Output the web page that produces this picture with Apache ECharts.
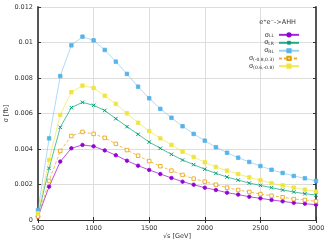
<!DOCTYPE html>
<html><head><meta charset="utf-8">
<script src="https://cdn.jsdelivr.net/npm/echarts@6/dist/echarts.min.js"></script>
<style>html,body{margin:0;padding:0;background:#fff}#c{width:327px;height:245px}</style>
</head><body><div id="c"></div>
<script>
const energies = [500,600,700,800,900,1000,1100,1200,1300,1400,1500,1600,1700,1800,1900,2000,2100,2200,2300,2400,2500,2600,2700,2800,2900,3000];
const sigmaLL = [0.00019,0.00188,0.00329,0.00404,0.00423,0.00415,0.00392,0.00365,0.00334,0.00306,0.00282,0.00259,0.00237,0.00216,0.00199,0.00182,0.00169,0.00154,0.00143,0.00131,0.00122,0.00113,0.00105,0.00097,0.00092,0.00086];
const sigmaLR = [0.00028,0.00291,0.00522,0.00633,0.00663,0.00646,0.00617,0.00571,0.00526,0.00483,0.00439,0.00404,0.0037,0.00338,0.00312,0.00286,0.00263,0.00242,0.00225,0.00208,0.00195,0.00182,0.00169,0.00158,0.00148,0.00141];
const sigmaRL = [0.00056,0.0046,0.00811,0.00984,0.01033,0.01012,0.00958,0.00892,0.00823,0.00751,0.00686,0.00626,0.00576,0.00528,0.00485,0.00447,0.0041,0.00379,0.00351,0.00327,0.00304,0.00283,0.00265,0.00248,0.00235,0.0022];
const sigmaM08P03 = [0.0002,0.0022,0.00389,0.00473,0.00496,0.00485,0.00463,0.00429,0.00394,0.00362,0.00332,0.00303,0.00278,0.00254,0.00233,0.00216,0.00199,0.00182,0.00169,0.00158,0.00146,0.00137,0.00128,0.00118,0.00113,0.00105];
const sigmaP06M08 = [0.00038,0.00338,0.00592,0.0072,0.00757,0.00744,0.007,0.00654,0.00601,0.00548,0.00501,0.0046,0.00423,0.00385,0.00355,0.00325,0.00299,0.00278,0.00259,0.0024,0.00224,0.00208,0.00195,0.00182,0.00171,0.0016];
const seriesNames = ['LL','LR','RL','(-0.8,0.3)','(0.6,-0.8)'];
const xTicks = {min:500, max:3000, step:500};
const yTicks = {min:0, max:0.012, step:0.002};

const pairs = arr => energies.map((e,i)=>[e,arr[i]]);
const font = 'DejaVu Sans';
const chart = echarts.init(document.getElementById('c'), null, {renderer:'canvas'});
function mk(name, data, color, symbol, opts) {
  return Object.assign({
    name, type:'line', data:pairs(data), symbol, symbolSize:3.5, showAllSymbol:true,
    lineStyle:{color, width:0.8, opacity:0.85},
    itemStyle:{color, borderColor:color, borderWidth:0.8},
    emphasis:{disabled:true}, animation:false
  }, opts||{});
}
chart.setOption({
  animation:false,
  title:{text:'e\u207Ae\u207B->AHH', right:26, top:14, textStyle:{fontFamily:font, fontSize:6.5, fontWeight:'normal', color:'#333'}},
  grid:{left:38, right:11, top:7, bottom:25, show:false, outerBoundsMode:'none', containLabel:false},
  legend:{
    orient:'vertical', right:22, top:26, itemGap:0, itemWidth:20, itemHeight:4, align:'right',
    data:seriesNames,
    formatter: n => '{s|\u03C3}{b|' + n + '}',
    textStyle:{fontFamily:font, fontSize:6, color:'#333', lineHeight:7.7,
      rich:{s:{fontSize:6.5, fontFamily:font, color:'#333', lineHeight:7.7}, b:{fontSize:4.5, fontFamily:font, color:'#333', lineHeight:7.7, verticalAlign:'bottom'}}}
  },
  xAxis:[{
    type:'value', min:xTicks.min, max:xTicks.max, interval:xTicks.step,
    name:'\u221As [GeV]', nameLocation:'middle', nameGap:13, nameMoveOverlap:false,
    nameTextStyle:{fontFamily:font, fontSize:6.5, color:'#333'},
    axisLine:{lineStyle:{color:'#333', width:1}}, axisTick:{inside:true, length:3, lineStyle:{color:'#333'}},
    axisLabel:{fontFamily:font, fontSize:6.5, color:'#333', margin:5, formatter: v => String(v)},
    splitLine:{show:true, lineStyle:{color:'#ddd', width:1}}
  },{
    type:'value', position:'top', min:xTicks.min, max:xTicks.max, interval:xTicks.step,
    axisLine:{show:true, lineStyle:{color:'#333', width:1}}, axisTick:{inside:true, length:3, lineStyle:{color:'#333'}},
    axisLabel:{show:false}, splitLine:{show:false}
  }],
  yAxis:[{
    type:'value', min:yTicks.min, max:yTicks.max, interval:yTicks.step,
    name:'\u03C3 [fb]', nameLocation:'middle', nameGap:28, nameMoveOverlap:false,
    nameTextStyle:{fontFamily:font, fontSize:6.5, color:'#333'},
    axisLine:{show:true, lineStyle:{color:'#555', width:2}}, axisTick:{inside:true, length:3, lineStyle:{color:'#333'}},
    axisLabel:{fontFamily:font, fontSize:6.5, color:'#333', margin:5, formatter: v => String(+v.toFixed(4))},
    splitLine:{show:true, lineStyle:{color:'#ddd', width:1}}
  },{
    type:'value', position:'right', min:yTicks.min, max:yTicks.max, interval:yTicks.step,
    axisLine:{show:true, lineStyle:{color:'#555', width:2}}, axisTick:{inside:true, length:3, lineStyle:{color:'#333'}},
    axisLabel:{show:false}, splitLine:{show:false}
  }],
  series:[
    mk(seriesNames[0], sigmaLL, '#9400D3', 'circle'),
    mk(seriesNames[1], sigmaLR, '#009E73', 'path://M0,0L10,10M10,0L0,10', {itemStyle:{color:'none', borderColor:'#009E73', borderWidth:1}}),
    mk(seriesNames[2], sigmaRL, '#56B4E9', 'rect', {lineStyle:{color:'#56B4E9', width:0.8, opacity:0.6}}),
    mk(seriesNames[3], sigmaM08P03, '#E69F00', 'rect', {lineStyle:{color:'#E69F00', width:0.8, type:[3,2], opacity:0.85}, itemStyle:{color:'#ffffff', borderColor:'#E69F00', borderWidth:0.8}}),
    mk(seriesNames[4], sigmaP06M08, '#F0E442', 'rect')
  ]
});
</script></body></html>
